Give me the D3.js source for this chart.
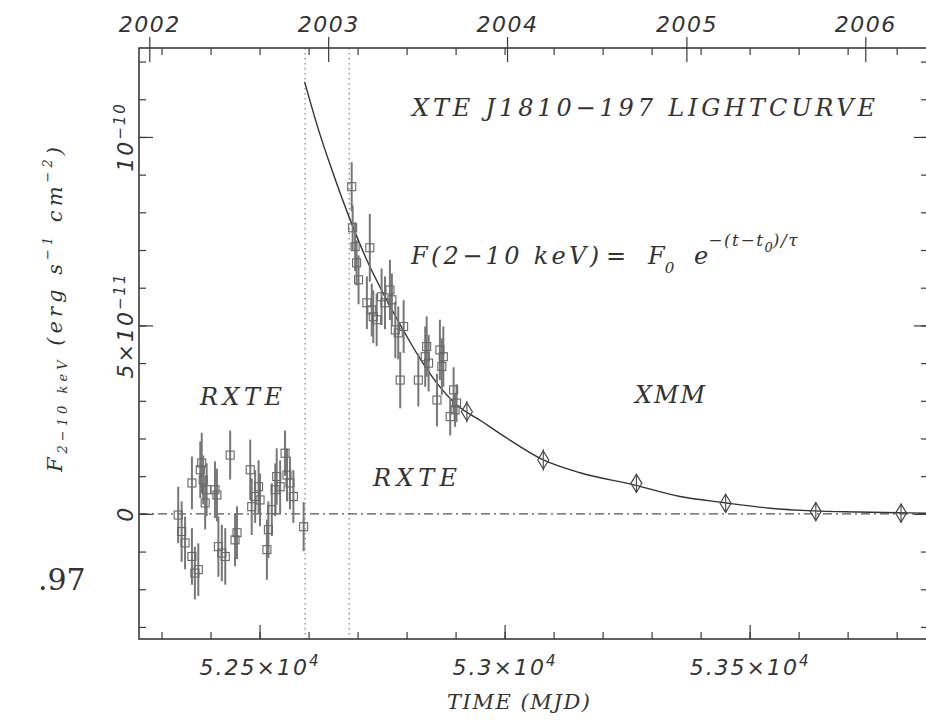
<!DOCTYPE html>
<html>
<head>
<meta charset="utf-8">
<script src="https://cdn.jsdelivr.net/npm/d3@7"></script>
<style>
  body { margin: 0; background: #fff; }
  svg text { fill: #333; }
  .serif { font-family: "DejaVu Serif", serif; font-style: italic; }
  .sans { font-family: "DejaVu Sans", sans-serif; font-style: italic; }
</style>
</head>
<body>
<div id="chart"></div>
<script>
// --- data (flux in units of 1e-11 erg s^-1 cm^-2, time in MJD)
const preMJD  = [52334, 52341, 52348, 52362, 52368, 52375, 52362, 52379, 52382, 52385, 52389, 52392,
                 52409, 52413, 52416, 52423, 52430, 52440, 52450, 52454, 52481, 52484, 52491, 52498,
                 52501, 52515, 52518, 52525, 52532, 52535, 52542, 52552, 52556, 52562, 52569, 52590];
const preFlux = [-0.03, -0.47, -0.77, -1.13, -1.57, -1.48, 0.82, 1.17, 1.35, 0.90, 0.29, 0.64,
                 0.64, 0.50, -0.87, -1.04, -1.13, 1.56, -0.69, -0.50, 1.17, 0.19, 0.46, 0.72,
                 0.37, -0.95, -0.42, 0.11, 0.64, 0.99, 0.72, 1.61, 1.03, 0.82, 0.46, -0.34];
const preErr  = [0.75, 0.8, 0.7, 0.75, 0.7, 0.7, 0.7, 0.75, 0.8, 0.65, 0.7, 0.7,
                 0.75, 0.7, 0.8, 0.75, 0.75, 0.65, 0.7, 0.7, 0.8, 0.75, 0.7, 0.7,
                 0.7, 0.8, 0.75, 0.7, 0.7, 0.75, 0.7, 0.6, 0.7, 0.7, 0.7, 0.65];

const postMJD  = [52688, 52690, 52695, 52698, 52702, 52719, 52725, 52729, 52732, 52739, 52749, 52756,
                  52766, 52770, 52777, 52783, 52787, 52794, 52824, 52838, 52841, 52845, 52862, 52868,
                  52872, 52875, 52889, 52896, 52899, 52902];
const postFlux = [8.68, 7.59, 7.09, 6.66, 6.21, 5.60, 7.06, 5.41, 5.23, 5.15, 5.76, 5.60,
                  5.94, 5.68, 4.88, 4.80, 3.55, 4.97, 3.55, 4.17, 4.44, 4.00, 3.02, 4.35,
                  3.91, 4.17, 2.58, 3.29, 2.76, 2.94];
const postErr  = [0.65, 0.6, 0.65, 0.6, 0.65, 0.7, 0.9, 0.7, 0.7, 0.7, 0.75, 0.7,
                  0.8, 0.7, 0.75, 0.7, 0.75, 0.7, 0.7, 0.8, 0.8, 0.75, 0.7, 0.8,
                  0.75, 0.8, 0.5, 0.6, 0.45, 0.5];

const xmmMJD  = [52923, 53079, 53269, 53451, 53635, 53809];
const xmmFlux = [2.71, 1.43, 0.81, 0.28, 0.06, 0.02];
const xmmErr  = [0.18, 0.18, 0.15, 0.15, 0.15, 0.15];

// exponential decay model
const curveMJD  = [52592, 52620, 52647, 52685, 52720, 52756, 52790, 52825, 52860, 52899, 52954,
                   53000, 53079, 53154, 53264, 53358, 53446, 53542, 53630, 53720, 53803, 53860];
const curveFlux = [11.46, 10.2, 9.15, 7.80, 6.7, 5.76, 4.95, 4.17, 3.5, 2.93, 2.45,
                   2.05, 1.43, 1.09, 0.77, 0.46, 0.30, 0.15, 0.08, 0.05, 0.03, 0.02];

const markerLines = [52593, 52683];

const mjdMinor = d3.range(52300, 53900, 100);
const mjdMajor = [52500, 53000, 53500];
const mjdLabels = [['5.25×10', '4'], ['5.3×10', '4'], ['5.35×10', '4']];

const yearMJD = [52275, 52640, 53005, 53371, 53736];
const yearLabels = ['2002', '2003', '2004', '2005', '2006'];

const fluxMinor = d3.range(-3, 13, 1);
const fluxMajor = [0, 5, 10];
const fluxLabels = [['0', ''], ['5×10', '−11'], ['10', '−10']];

// --- layout
const width = 926, height = 720;
const frame = { left: 139, right: 928, top: 48, bottom: 639 };

const svg = d3.select('#chart').append('svg')
  .attr('width', width)
  .attr('height', height)
  .attr('viewBox', `0 0 ${width} ${height}`);

svg.append('rect').attr('width', width).attr('height', height).attr('fill', '#fff');

const x = d3.scaleLinear().domain([52254, 53864]).range([frame.left, frame.right]);
const y = d3.scaleLinear().domain([-3.32, 12.36]).range([frame.bottom, frame.top]);

const ink = '#3a3a3a';

// dotted outburst markers
svg.append('g').selectAll('line')
  .data(markerLines)
  .join('line')
  .attr('x1', d => x(d)).attr('x2', d => x(d))
  .attr('y1', frame.top).attr('y2', frame.bottom)
  .attr('stroke', '#888')
  .attr('stroke-width', 1.3)
  .attr('stroke-dasharray', '1.5,3.5');

// zero line, dash-dot
svg.append('line')
  .attr('x1', frame.left).attr('x2', frame.right)
  .attr('y1', y(0)).attr('y2', y(0))
  .attr('stroke', '#555')
  .attr('stroke-width', 1.3)
  .attr('stroke-dasharray', '9,4,2,4');

// --- axes
function cleanAxis(sel) {
  sel.select('.domain').remove();
  sel.selectAll('line').attr('stroke', ink).attr('stroke-width', 1.2);
}

// bottom
svg.append('g')
  .attr('transform', `translate(0,${frame.bottom})`)
  .call(d3.axisBottom(x).tickValues(mjdMinor).tickSizeInner(-7).tickSizeOuter(0).tickFormat(''))
  .call(cleanAxis);

const bottomMajor = svg.append('g')
  .attr('transform', `translate(0,${frame.bottom})`)
  .call(d3.axisBottom(x).tickValues(mjdMajor).tickSizeInner(-14).tickSizeOuter(0).tickPadding(20))
  .call(cleanAxis);

bottomMajor.selectAll('.tick text')
  .attr('class', 'sans')
  .attr('font-size', 22)
  .attr('letter-spacing', 2)
  .attr('fill', ink)
  .attr('dy', '0.71em')
  .each(function (d, i) {
    const t = d3.select(this).text(null);
    t.append('tspan').text(mjdLabels[i][0]);
    t.append('tspan').attr('dy', '-0.55em').attr('font-size', 15).text(mjdLabels[i][1]);
  });

// top (mirror MJD ticks)
svg.append('g')
  .attr('transform', `translate(0,${frame.top})`)
  .call(d3.axisTop(x).tickValues(mjdMinor).tickSizeInner(-7).tickSizeOuter(0).tickFormat(''))
  .call(cleanAxis);

// top year axis
const yearAxis = svg.append('g')
  .attr('transform', `translate(0,${frame.top})`)
  .call(d3.axisTop(x).tickValues(yearMJD).tickSizeInner(11).tickSizeOuter(0).tickPadding(5)
    .tickFormat((d, i) => yearLabels[i]))
  .call(cleanAxis);

yearAxis.selectAll('.tick line').attr('y1', 14).attr('y2', -11);
yearAxis.selectAll('.tick text')
  .attr('class', 'sans')
  .attr('font-size', 22)
  .attr('letter-spacing', 1.5)
  .attr('fill', ink);

// left
svg.append('g')
  .attr('transform', `translate(${frame.left},0)`)
  .call(d3.axisLeft(y).tickValues(fluxMinor).tickSizeInner(-7).tickSizeOuter(0).tickFormat(''))
  .call(cleanAxis);
svg.append('g')
  .attr('transform', `translate(${frame.left},0)`)
  .call(d3.axisLeft(y).tickValues(fluxMajor).tickSizeInner(-14).tickSizeOuter(0).tickFormat(''))
  .call(cleanAxis);

// right (mirror)
svg.append('g')
  .attr('transform', `translate(${frame.right},0)`)
  .call(d3.axisRight(y).tickValues(fluxMinor).tickSizeInner(-7).tickSizeOuter(0).tickFormat(''))
  .call(cleanAxis);
svg.append('g')
  .attr('transform', `translate(${frame.right},0)`)
  .call(d3.axisRight(y).tickValues(fluxMajor).tickSizeInner(-14).tickSizeOuter(0).tickFormat(''))
  .call(cleanAxis);

// rotated y tick labels
const yLab = svg.append('g').selectAll('text')
  .data(fluxMajor)
  .join('text')
  .attr('class', 'sans')
  .attr('font-size', 22)
  .attr('letter-spacing', 2)
  .attr('fill', ink)
  .attr('text-anchor', 'middle')
  .attr('transform', d => `translate(133,${y(d)}) rotate(-90)`);
yLab.each(function (d, i) {
  const t = d3.select(this);
  t.append('tspan').text(fluxLabels[i][0]);
  if (fluxLabels[i][1]) t.append('tspan').attr('dy', '-0.55em').attr('font-size', 15).text(fluxLabels[i][1]);
});

// frame
svg.append('rect')
  .attr('x', frame.left).attr('y', frame.top)
  .attr('width', frame.right - frame.left)
  .attr('height', frame.bottom - frame.top)
  .attr('fill', 'none')
  .attr('stroke', ink)
  .attr('stroke-width', 1.6);

// --- model curve
const line = d3.line()
  .x((d, i) => x(curveMJD[i]))
  .y(d => y(d))
  .curve(d3.curveMonotoneX);

svg.append('path')
  .datum(curveFlux)
  .attr('d', line)
  .attr('fill', 'none')
  .attr('stroke', '#333')
  .attr('stroke-width', 1.4);

// --- RXTE points (squares with error bars)
function drawSquares(mjd, flux, err) {
  const g = svg.append('g');
  const pts = mjd.map((m, i) => ({ m, f: flux[i], e: err[i] }));
  g.selectAll('line.err')
    .data(pts)
    .join('line')
    .attr('class', 'err')
    .attr('x1', d => x(d.m)).attr('x2', d => x(d.m))
    .attr('y1', d => y(d.f - d.e)).attr('y2', d => y(d.f + d.e))
    .attr('stroke', '#777')
    .attr('stroke-width', 2);
  g.selectAll('rect')
    .data(pts)
    .join('rect')
    .attr('x', d => x(d.m) - 4).attr('y', d => y(d.f) - 4)
    .attr('width', 8).attr('height', 8)
    .attr('fill', 'none')
    .attr('stroke', '#666')
    .attr('stroke-width', 1.1);
}
drawSquares(preMJD, preFlux, preErr);
drawSquares(postMJD, postFlux, postErr);

// --- XMM points (diamonds)
const xmm = xmmMJD.map((m, i) => ({ m, f: xmmFlux[i], e: xmmErr[i] }));
const xg = svg.append('g');
xg.selectAll('line')
  .data(xmm)
  .join('line')
  .attr('x1', d => x(d.m)).attr('x2', d => x(d.m))
  .attr('y1', d => y(d.f - d.e) + 4).attr('y2', d => y(d.f + d.e) - 4)
  .attr('stroke', '#555')
  .attr('stroke-width', 1.2);
xg.selectAll('path')
  .data(xmm)
  .join('path')
  .attr('transform', d => `translate(${x(d.m)},${y(d.f)})`)
  .attr('d', 'M0,-9L5.5,0L0,9L-5.5,0Z')
  .attr('fill', 'none')
  .attr('stroke', '#444')
  .attr('stroke-width', 1.2);

// --- text annotations
svg.append('text')
  .attr('class', 'serif')
  .attr('x', 412).attr('y', 116)
  .attr('font-size', 24)
  .attr('textLength', 463)
  .attr('lengthAdjust', 'spacing')
  .text('XTE J1810−197 LIGHTCURVE');

const eq = svg.append('text')
  .attr('class', 'serif')
  .attr('x', 411).attr('y', 264)
  .attr('font-size', 24);
eq.append('tspan').attr('textLength', 188).attr('lengthAdjust', 'spacing').text('F(2−10 keV)');
eq.append('tspan').attr('x', 606).text('=');
eq.append('tspan').attr('x', 648).text('F');
eq.append('tspan').attr('font-size', 15).attr('dy', 9).text('0');
eq.append('tspan').attr('x', 694).attr('dy', -9).text('e');
eq.append('tspan').attr('font-size', 17).attr('dy', -18).attr('letter-spacing', 1.5).text('−(t−t');
eq.append('tspan').attr('font-size', 13).attr('dy', 6).text('0');
eq.append('tspan').attr('font-size', 17).attr('dy', -6).attr('letter-spacing', 1.5).text(')/τ');

const regions = [
  { text: 'RXTE', x: 241, y: 405, w: 82 },
  { text: 'RXTE', x: 415, y: 486, w: 84 },
  { text: 'XMM', x: 670, y: 403, w: 70 }
];
svg.append('g').selectAll('text')
  .data(regions)
  .join('text')
  .attr('class', 'serif')
  .attr('x', d => d.x - d.w / 2).attr('y', d => d.y)
  .attr('font-size', 24)
  .attr('textLength', d => d.w)
  .attr('lengthAdjust', 'spacing')
  .text(d => d.text);

// x label
svg.append('text')
  .attr('class', 'serif')
  .attr('x', 447).attr('y', 709)
  .attr('font-size', 21)
  .attr('textLength', 143)
  .attr('lengthAdjust', 'spacing')
  .text('TIME (MJD)');

// y label
const yl = svg.append('text')
  .attr('class', 'serif')
  .attr('font-size', 21)
  .attr('textLength', 325)
  .attr('lengthAdjust', 'spacing')
  .attr('transform', 'translate(62,472) rotate(-90)');
yl.append('tspan').text('F');
yl.append('tspan').attr('font-size', 13).attr('dy', 5).text('2−10 keV');
yl.append('tspan').attr('dy', -5).text(' (erg s');
yl.append('tspan').attr('font-size', 13).attr('dy', -10).text('−1');
yl.append('tspan').attr('dy', 10).text(' cm');
yl.append('tspan').attr('font-size', 13).attr('dy', -10).text('−2');
yl.append('tspan').attr('dy', 10).text(')');

// stray page fragment at the left edge
svg.append('text')
  .attr('x', 38).attr('y', 590)
  .attr('font-family', '"DejaVu Serif", serif')
  .attr('font-size', 30)
  .attr('fill', '#222')
  .text('.97');
</script>
</body>
</html>
